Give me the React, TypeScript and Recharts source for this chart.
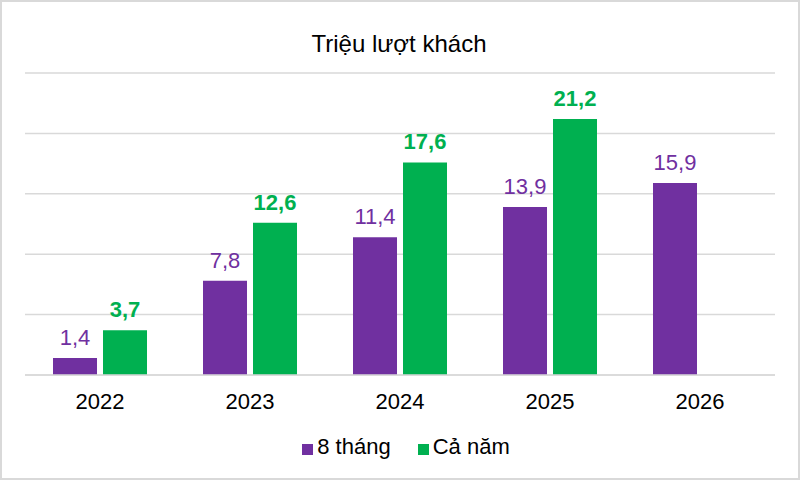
import React from 'react';
import { BarChart, Bar, XAxis, YAxis, CartesianGrid, Legend, LabelList } from 'recharts';

const years = ['2022', '2023', '2024', '2025', '2026'];
const eightMonths = [1.4, 7.8, 11.4, 13.9, 15.9];
const fullYear: (number | null)[] = [3.7, 12.6, 17.6, 21.2, null];
const yTicks = [0, 5, 10, 15, 20, 25];

const PURPLE = '#7030A0';
const GREEN = '#00B050';
const FONT = 'Arial, "Liberation Sans", sans-serif';

const data = years.map((year, i) => ({
  year,
  eight: eightMonths[i],
  full: fullYear[i],
}));

// Vietnamese decimal comma
const fmt = (v: any) => (v == null ? '' : Number(v).toFixed(1).replace('.', ','));

const App: React.FC = () => {
  return (
    <div style={{ position: 'absolute', left: 0, top: 0, width: 800, height: 480, background: '#fff', fontFamily: FONT }}>
      <div
        style={{
          position: 'absolute',
          top: 30,
          left: 0,
          width: 798,
          textAlign: 'center',
          fontSize: 24,
          color: '#000',
          lineHeight: 'normal',
        }}
      >
        Triệu lượt khách
      </div>
      <BarChart
        width={800}
        height={480}
        data={data}
        margin={{ top: 73, right: 25, bottom: 20, left: 25 }}
        barCategoryGap="18.67%"
        barGap={6}
      >
        <CartesianGrid vertical={false} stroke="#d9d9d9" strokeWidth={1.5} />
        <XAxis
          dataKey="year"
          height={59}
          axisLine={{ stroke: '#d9d9d9', strokeWidth: 1.5 }}
          tickLine={false}
          tickSize={0}
          tickMargin={18}
          tick={{ fill: '#000', fontSize: 22, fontFamily: FONT }}
        />
        <YAxis hide domain={[0, 25]} ticks={yTicks} />
        <Legend
          iconType="square"
          iconSize={11}
          wrapperStyle={{ left: 36 }}
          formatter={(value: string, _entry: any, index: number) => (
            <span style={{ color: '#000', fontSize: 22, fontFamily: FONT, marginRight: index === 0 ? 17 : 0 }}>
              {value}
            </span>
          )}
        />
        <Bar dataKey="eight" name="8 tháng" fill={PURPLE} isAnimationActive={false}>
          <LabelList
            dataKey="eight"
            position="top"
            offset={13}
            formatter={fmt}
            style={{ fill: PURPLE, fontSize: 22, fontFamily: FONT }}
          />
        </Bar>
        <Bar dataKey="full" name="Cả năm" fill={GREEN} isAnimationActive={false}>
          <LabelList
            dataKey="full"
            position="top"
            offset={13}
            formatter={fmt}
            style={{ fill: GREEN, fontSize: 22, fontWeight: 'bold', fontFamily: FONT }}
          />
        </Bar>
      </BarChart>
      <div
        style={{
          position: 'absolute',
          left: 0,
          top: 0,
          width: 800,
          height: 480,
          boxSizing: 'border-box',
          border: '2px solid #d9d9d9',
          pointerEvents: 'none',
        }}
      />
    </div>
  );
};

export default App;
